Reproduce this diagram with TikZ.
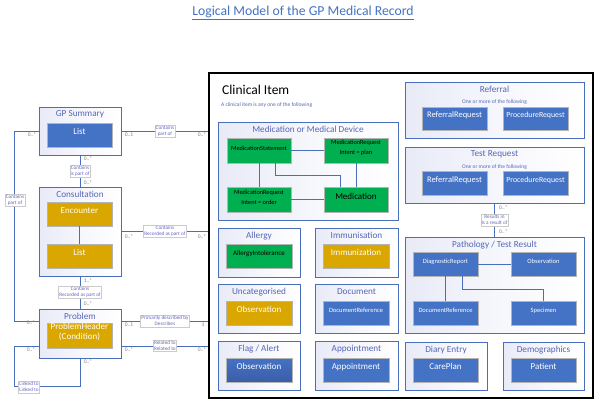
\documentclass[tikz,border=0pt]{standalone}
\usepackage{fontspec}
\setmainfont{Carlito}
\usetikzlibrary{fit,calc}
\definecolor{contb}{HTML}{4A6FBA}
\definecolor{contg}{HTML}{E8EAF7}
\definecolor{titc}{HTML}{5666B6}
\definecolor{ibl}{HTML}{4472C4}
\definecolor{idb}{HTML}{3A5EA8}
\definecolor{ior}{HTML}{DAA600}
\definecolor{igr}{HTML}{00B050}
\definecolor{ibd}{HTML}{B4B4B4}
\definecolor{linec}{HTML}{4A6FBA}
\definecolor{lblt}{HTML}{6464BE}
\definecolor{multc}{HTML}{808080}
\newcommand\fsz[1]{\fontsize{#1}{#1}\selectfont}
\newcommand\cbox[6]{\node[contbox, fit={(#2,#3)(#4,#5)}] (#1) {};
  \node[ctitle] (#1t) at ([yshift=-8pt]#1.north) {#6};}
\newcommand\ibox[7]{\node[#1, fit={(#3,#4)(#5,#6)}] (#2) {#7};}
\begin{document}
\begin{tikzpicture}[x=1pt,y=-1pt,
  contbox/.style={draw=contb, line width=0.8pt, left color=contg, right color=white, middle color=white!60!contg, inner sep=0pt},
  ctitle/.style={text=titc, font=\fsz{9.2}, inner sep=0pt},
  subt/.style={text=titc, font=\fsz{5.5}, inner sep=0pt},
  inbox/.style={draw=ibd, line width=0.8pt, inner sep=0pt, align=center, font=\fontsize{9}{10}\selectfont},
  bb/.style={inbox, fill=ibl, text=white},
  db/.style={inbox, top color=ibl, bottom color=idb, text=white},
  ob/.style={inbox, fill=ior, text=white},
  gb/.style={inbox, fill=igr, text=black},
  conn/.style={draw=linec, line width=0.8pt},
  lbl/.style={draw=ibd!70, line width=0.4pt, fill=white, text=lblt, font=\fontsize{5.2}{6.2}\selectfont, inner sep=0.8pt, align=center},
  mult/.style={text=multc, font=\fsz{5.5}, inner sep=0pt}
]
\useasboundingbox (0,0) rectangle (599,404);

\node[text=ibl, font=\fsz{13.7}] (title) at (303,13) {\underline{Logical Model of the GP Medical Record}};

% Clinical item frame
\node[draw=black, line width=1.2pt, fill=white, fit={(209,73)(593,398)}, inner sep=0pt] (ci) {};
\node[anchor=west, font=\fsz{13.5}, inner sep=0pt] (citl) at (222,90) {Clinical Item};
\node[anchor=west, subt] (cisub) at (221,105) {A clinical item is any one of the following};

% Medication
\cbox{medc}{218}{122}{398}{220}{Medication or Medical Device}
\ibox{gb}{ms}{227}{138}{291}{163}{\fsz{6.3}MedicationStatement}
\ibox{gb}{mrp}{324}{138}{388}{163}{\fontsize{6.3}{7.5}\selectfont MedicationRequest\\Intent = plan}
\ibox{gb}{mro}{227}{187}{291}{212}{\fontsize{6.3}{7.5}\selectfont MedicationRequest\\Intent = order}
\ibox{gb}{med}{324}{187}{388}{212}{Medication}
\draw[conn] (ms.east) -- (mrp.west);
\draw[conn] (ms.south) -- (mro.north);
\draw[conn] ([xshift=16pt]ms.south) -- ++(0,12) -| ([xshift=-16pt]med.north);
\draw[conn] (mrp.south) -- (med.north);
\draw[conn] (mro.east) -- (med.west);

% Referral
\cbox{refc}{405}{82}{584}{138}{Referral}
\node[subt] (refs) at ([yshift=-20pt]refc.north) {One or more of the following};
\ibox{bb}{rr1}{422}{107}{487}{130}{\fsz{8.5}ReferralRequest}
\ibox{bb}{pr1}{503}{107}{568}{130}{\fsz{7.8}ProcedureRequest}

% Test request
\cbox{treq}{405}{147}{584}{203}{Test Request}
\node[subt] (treqs) at ([yshift=-20pt]treq.north) {One or more of the following};
\ibox{bb}{rr2}{422}{171}{487}{195}{\fsz{8.5}ReferralRequest}
\ibox{bb}{pr2}{503}{171}{568}{195}{\fsz{7.8}ProcedureRequest}

% Pathology
\cbox{path}{405}{237}{584}{333}{Pathology / Test Result}
\ibox{bb}{dr}{413}{252}{478}{276}{\fsz{6.5}DiagnosticReport}
\ibox{bb}{pobs}{511}{252}{576}{276}{\fsz{6.5}Observation}
\ibox{bb}{dref}{413}{301}{478}{325}{\fsz{6.5}DocumentReference}
\ibox{bb}{spec}{511}{301}{576}{325}{\fsz{6.5}Specimen}
\draw[conn] (dr.east) -- (pobs.west);
\draw[conn] (dr.south) -- (dref.north);
\draw[conn] ([xshift=17pt]dr.south) -- ++(0,13) -| (spec.north);

% Diary / Demographics
\cbox{diary}{405}{342}{487}{390}{Diary Entry}
\ibox{bb}{cp}{413}{358}{478}{382}{CarePlan}
\cbox{demo}{503}{342}{584}{390}{Demographics}
\ibox{bb}{pat}{511}{358}{576}{382}{Patient}

% grid of small containers
\cbox{allc}{218}{228}{300}{277}{Allergy}
\ibox{gb}{ai}{226}{244}{292}{268}{\fsz{7}AllergyIntolerance}
\cbox{immc}{315}{228}{398}{277}{Immunisation}
\ibox{ob}{imm}{323}{244}{389}{268}{Immunization}
\cbox{uncc}{218}{284}{300}{333}{Uncategorised}
\ibox{ob}{uobs}{226}{301}{292}{325}{Observation}
\cbox{docc}{315}{284}{398}{333}{Document}
\ibox{bb}{docr}{323}{301}{389}{325}{\fsz{6.5}DocumentReference}
\cbox{flagc}{218}{341}{300}{390}{Flag / Alert}
\ibox{db}{fobs}{226}{358}{292}{382}{Observation}
\cbox{appc}{315}{341}{398}{390}{Appointment}
\ibox{bb}{app}{323}{358}{389}{382}{Appointment}

% Test request -> pathology
\draw[conn] (treq.south) -- node[lbl] (lres) {Results in\\Is a result of} (path.north);
\node[mult, anchor=west] (m1) at (499,208) {0..*};
\node[mult, anchor=west] (m2) at (499,232) {0..*};

% Left side
\cbox{gps}{39}{107}{121}{155}{GP Summary}
\ibox{bb}{gpsl}{47}{123}{112}{147}{List}
\cbox{cons}{39}{187}{121}{276}{Consultation}
\ibox{ob}{enc}{47}{202}{112}{226}{Encounter}
\ibox{ob}{clist}{47}{244}{112}{268}{List}
\cbox{prob}{39}{309}{121}{358}{Problem}
\ibox{ob}{ph}{47}{323}{112}{348}{ProblemHeader\\(Condition)}
\draw[conn] (enc.south) -- (clist.north);

\coordinate (pe1) at ($(prob.north east)!0.25!(prob.south east)$);
\coordinate (pe2) at ($(prob.north east)!0.75!(prob.south east)$);
\coordinate (pw1) at ($(prob.north west)!0.25!(prob.south west)$);
\coordinate (pw2) at ($(prob.north west)!0.75!(prob.south west)$);

\draw[conn] (gps.east) -- node[lbl] (l1) {Contains\\part of} (gps.east -| ci.west);
\node[mult] (m3) at (129,135) {0..1};
\node[mult] (m4) at (202,135) {0..*};

\draw[conn] (gps.south) -- node[lbl] (l2) {Contains\\is part of} (cons.north);
\node[mult] (m5) at (88,159) {0..*};
\node[mult] (m6) at (88,183) {0..*};

\draw[conn] (cons.east) -- node[lbl] (l3) {Contains\\Recorded as part of} (cons.east -| ci.west);
\node[mult] (m7) at (129,237) {0..*};
\node[mult] (m8) at (202,237) {0..*};

\draw[conn] (cons.south) -- node[lbl] (l4) {Contains\\Recorded as part of} (prob.north);
\node[mult] (m9) at (88,281) {1..*};
\node[mult] (m10) at (88,304) {0..*};

\draw[conn] (gps.west) -- ++(-24,0) |- (pw1);
\node[lbl] (l5) at (15,200) {Contains\\part of};
\node[mult] (m11) at (32,135) {0..*};
\node[mult] (m12) at (31,323) {0..*};

\draw[conn] (pe1) -- node[lbl] (l6) {Primarily described by\\Describes} (pe1 -| ci.west);
\node[mult] (m13) at (129,325) {0..1};
\node[mult] (m14) at (203,325) {1};

\draw[conn] (pe2) -- node[lbl] (l7) {Related to\\Related to} (pe2 -| ci.west);
\node[mult] (m15) at (129,350) {0..*};
\node[mult] (m16) at (202,350) {0..*};

\draw[conn] (pw2) -- ++(-24,0) -- ++(0,40) -| (prob.south);
\node[lbl] (l8) at (29,387) {Linked to\\Linked to};
\node[mult] (m17) at (31,350) {0..*};
\node[mult] (m18) at (88,362) {0..*};
\end{tikzpicture}
\end{document}
